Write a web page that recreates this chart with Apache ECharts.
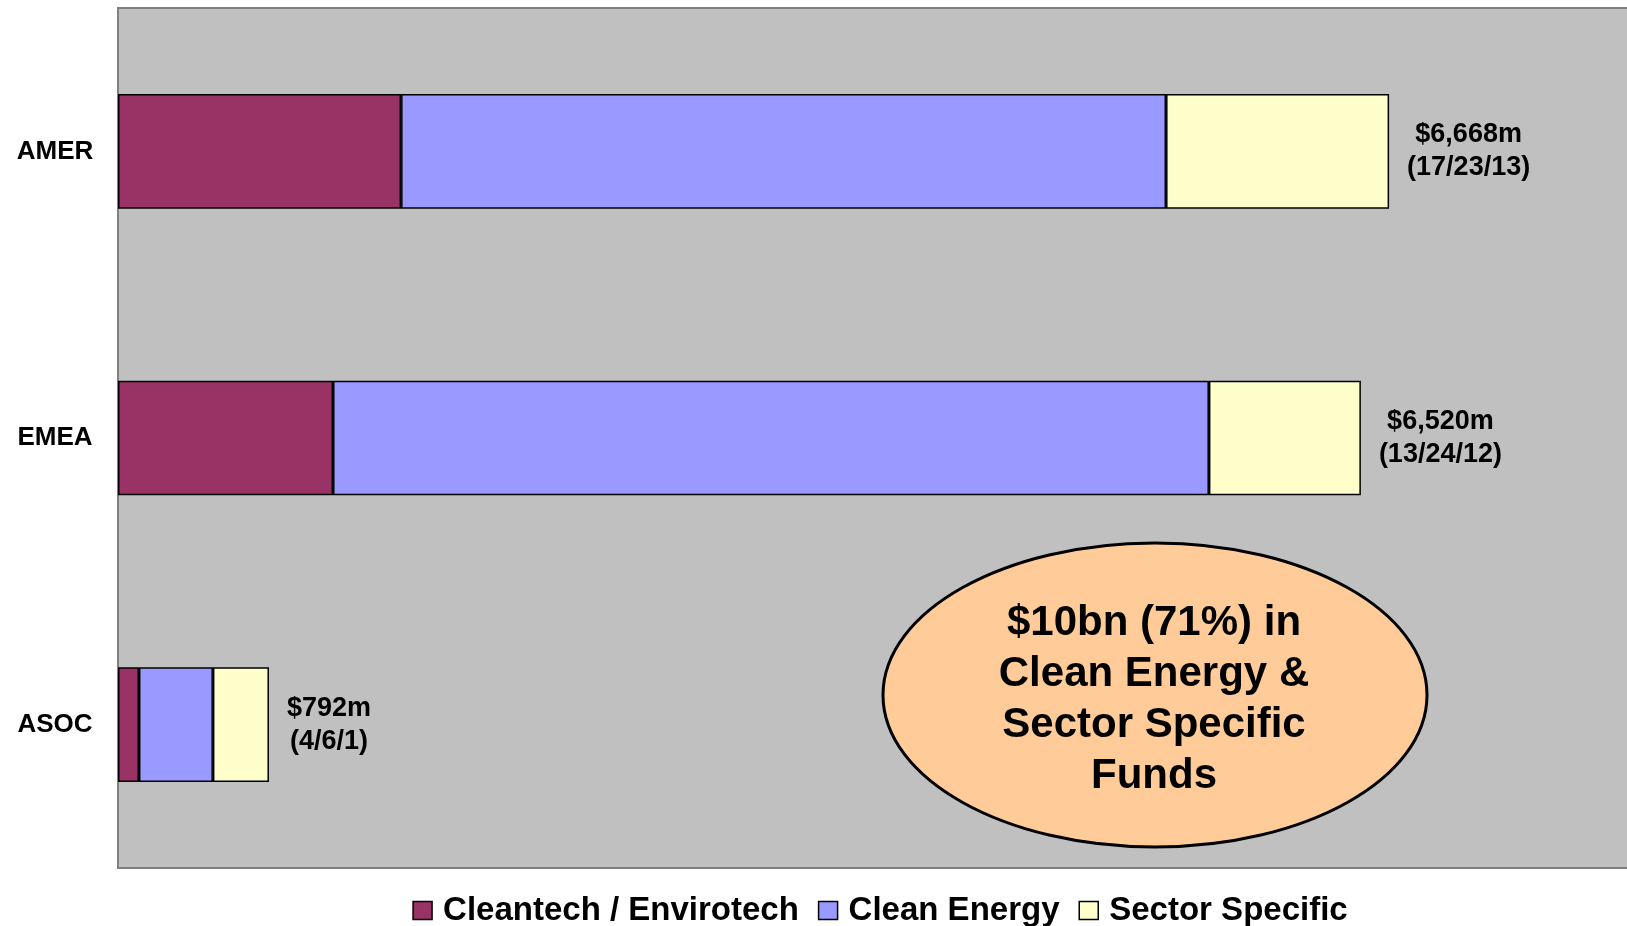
<!DOCTYPE html>
<html>
<head>
<meta charset="utf-8">
<script src="https://cdn.jsdelivr.net/npm/echarts@6/dist/echarts.min.js"></script>
<style>
  html, body { margin: 0; padding: 0; background: #fff; overflow: hidden; }
  #chart { width: 1760px; height: 926px; }
</style>
</head>
<body>
<div id="chart"></div>
<script>
// regions, top to bottom
const regions = ['AMER', 'EMEA', 'ASOC']

// fund size by type, $m
const cleantech = [1485, 1128, 110]
const cleanEnergy = [4013, 4595, 388]
const sectorSpecific = [1170, 797, 294]

// totals and fund counts (cleantech / clean energy / sector specific)
const totals = ['$6,668m', '$6,520m', '$792m']
const cleantechFunds = [17, 13, 4]
const cleanEnergyFunds = [23, 24, 6]
const sectorFunds = [13, 12, 1]

const seriesNames = ['Cleantech / Envirotech', 'Clean Energy', 'Sector Specific']
const colors = ['#993366', '#9999FF', '#FFFFCC']

const calloutText = '$10bn (71%) in\nClean Energy &\nSector Specific\nFunds'

const font = '"Liberation Sans", Arial, sans-serif'

const chart = echarts.init(document.getElementById('chart'))

const barStyle = (color) => ({
    color,
    borderColor: '#000',
    borderWidth: 1.5
})

const option = {
    animation: false,
    textStyle: { fontFamily: font },
    grid: {
        left: 118,
        top: 8,
        width: 1525,
        bottom: 58,
        show: true,
        backgroundColor: '#C0C0C0',
        borderColor: '#808080',
        borderWidth: 2
    },
    legend: {
        data: seriesNames,
        left: 'center',
        top: 889,
        itemWidth: 19,
        itemHeight: 18,
        itemGap: 19,
        icon: 'rect',
        itemStyle: { borderColor: '#000', borderWidth: 1.5 },
        textStyle: {
            fontSize: 33,
            fontWeight: 'bold',
            color: '#000',
            fontFamily: font,
            padding: [0, 0, 0, 6]
        }
    },
    xAxis: {
        type: 'value',
        min: 0,
        max: 8000,
        show: false
    },
    yAxis: {
        type: 'category',
        data: regions,
        inverse: true,
        axisLine: { show: false },
        axisTick: { show: false },
        splitLine: { show: false },
        axisLabel: {
            align: 'center',
            margin: 63,
            fontSize: 26,
            fontWeight: 'bold',
            color: '#000',
            fontFamily: font
        }
    },
    series: [
        {
            name: seriesNames[0],
            type: 'bar',
            stack: 'total',
            barWidth: '40%',
            data: cleantech,
            itemStyle: barStyle(colors[0])
        },
        {
            name: seriesNames[1],
            type: 'bar',
            stack: 'total',
            data: cleanEnergy,
            itemStyle: barStyle(colors[1])
        },
        {
            name: seriesNames[2],
            type: 'bar',
            stack: 'total',
            data: sectorSpecific,
            itemStyle: barStyle(colors[2]),
            label: {
                show: true,
                position: 'right',
                distance: 18,
                formatter: (p) => {
                    const i = p.dataIndex
                    return '{a|' + totals[i] + '}\n{a|(' + cleantechFunds[i] + '/' + cleanEnergyFunds[i] + '/' + sectorFunds[i] + ')}'
                },
                rich: {
                    a: {
                        align: 'center',
                        fontSize: 27,
                        fontWeight: 'bold',
                        lineHeight: 33,
                        color: '#000',
                        fontFamily: font
                    }
                }
            }
        }
    ],
    graphic: [
        {
            type: 'ellipse',
            shape: { cx: 1155, cy: 695, rx: 272, ry: 152 },
            style: { fill: '#FFCC99', stroke: '#000', lineWidth: 3 },
            z: 100
        },
        {
            type: 'text',
            x: 1154,
            y: 700,
            z: 101,
            style: {
                text: calloutText,
                fill: '#000',
                font: 'bold 42px ' + font,
                lineHeight: 51,
                textAlign: 'center',
                textVerticalAlign: 'middle'
            }
        }
    ]
}

chart.setOption(option)

window.addEventListener('resize', () => chart.resize())
</script>
</body>
</html>
